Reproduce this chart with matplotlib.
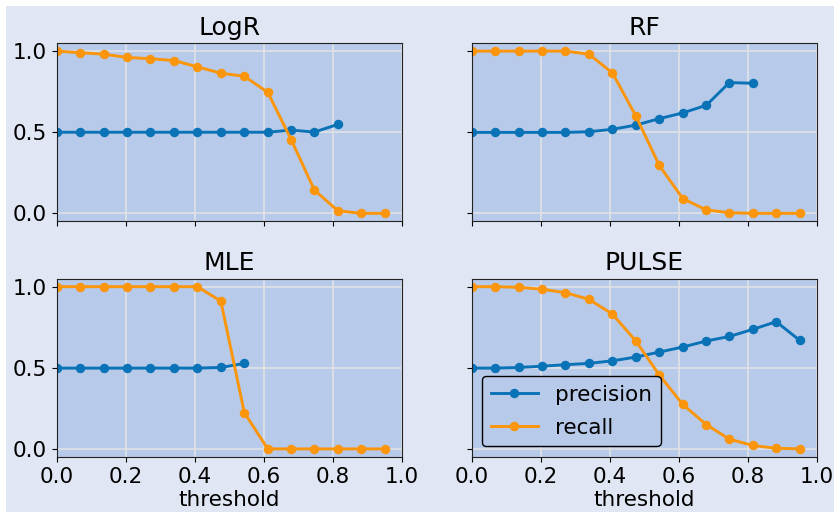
import matplotlib
matplotlib.use("Agg")
import matplotlib.pyplot as plt
from matplotlib.patches import Rectangle

# decision thresholds shared by all models
thresholds = [0.0, 0.068, 0.136, 0.204, 0.271, 0.339, 0.407, 0.475,
              0.543, 0.611, 0.679, 0.746, 0.814, 0.882, 0.95]

# precision stops once no samples are predicted positive
logr_precision = [0.50, 0.50, 0.50, 0.50, 0.50, 0.50, 0.50, 0.50, 0.50, 0.50,
                  0.513, 0.501, 0.548]
logr_recall = [1.0, 0.99, 0.981, 0.961, 0.953, 0.942, 0.903, 0.864, 0.845,
               0.746, 0.454, 0.144, 0.016, 0.0, 0.0]

rf_precision = [0.499, 0.499, 0.499, 0.499, 0.499, 0.503, 0.518, 0.544, 0.584,
                0.619, 0.666, 0.806, 0.802]
rf_recall = [1.0, 1.0, 1.0, 1.0, 1.0, 0.981, 0.866, 0.600, 0.295, 0.091,
             0.021, 0.004, 0.0, 0.0, 0.0]

mle_precision = [0.498, 0.498, 0.498, 0.498, 0.498, 0.498, 0.498, 0.502, 0.527]
mle_recall = [1.0, 1.0, 1.0, 1.0, 1.0, 1.0, 1.0, 0.911, 0.224, 0.0, 0.0,
              0.0, 0.0, 0.0, 0.0]

pulse_precision = [0.498, 0.498, 0.502, 0.510, 0.519, 0.527, 0.543, 0.566,
                   0.597, 0.628, 0.665, 0.693, 0.737, 0.784, 0.669]
pulse_recall = [1.0, 1.0, 0.996, 0.984, 0.963, 0.922, 0.831, 0.665, 0.455,
                0.274, 0.150, 0.060, 0.021, 0.004, 0.0]

models = ["LogR", "RF", "MLE", "PULSE"]
precisions = [logr_precision, rf_precision, mle_precision, pulse_precision]
recalls = [logr_recall, rf_recall, mle_recall, pulse_recall]

BLUE = "#0a72b6"
ORANGE = "#fa950c"

plt.rcParams.update({
    "axes.facecolor": "#b7cae9",
    "axes.edgecolor": "#222222",
    "grid.color": "#e4e4e4",
    "grid.linewidth": 1.1,
    "font.size": 15.5,
})

fig, axes = plt.subplots(2, 2, figsize=(8.34, 5.12), dpi=100,
                         sharex=True, sharey=True)
fig.patch.set_facecolor("white")
fig.patches.append(Rectangle((6 / 834, 0), 1, 506 / 512, transform=fig.transFigure,
                             facecolor="#e0e6f3", edgecolor="none", zorder=-10))
fig.subplots_adjust(left=0.0683, right=0.9796, top=0.916, bottom=0.1074,
                    wspace=0.203, hspace=0.32)

for ax, name, prec, rec in zip(axes.flat, models, precisions, recalls):
    ax.plot(thresholds[:len(prec)], prec, "o-", color=BLUE, lw=2.1, ms=5.8,
            label="precision")
    ax.plot(thresholds[:len(rec)], rec, "o-", color=ORANGE, lw=2.1, ms=5.8,
            label="recall")
    ax.set_title(name, fontsize=18)
    ax.grid(True)
    ax.set_xlim(0, 1)
    ax.set_xticks([0, 0.2, 0.4, 0.6, 0.8, 1.0])
    ax.set_yticks([0.0, 0.5, 1.0])

for ax in axes[1]:
    ax.set_xlabel("threshold", labelpad=2)

leg = axes[1, 1].legend(loc="lower left", bbox_to_anchor=(0.029, 0.061),
                        borderaxespad=0, framealpha=1, facecolor="#b7cae9",
                        edgecolor="black", fontsize=15.5, handlelength=2.2,
                        labelspacing=0.6)

fig.savefig("out.png", dpi=100, facecolor=fig.get_facecolor())
